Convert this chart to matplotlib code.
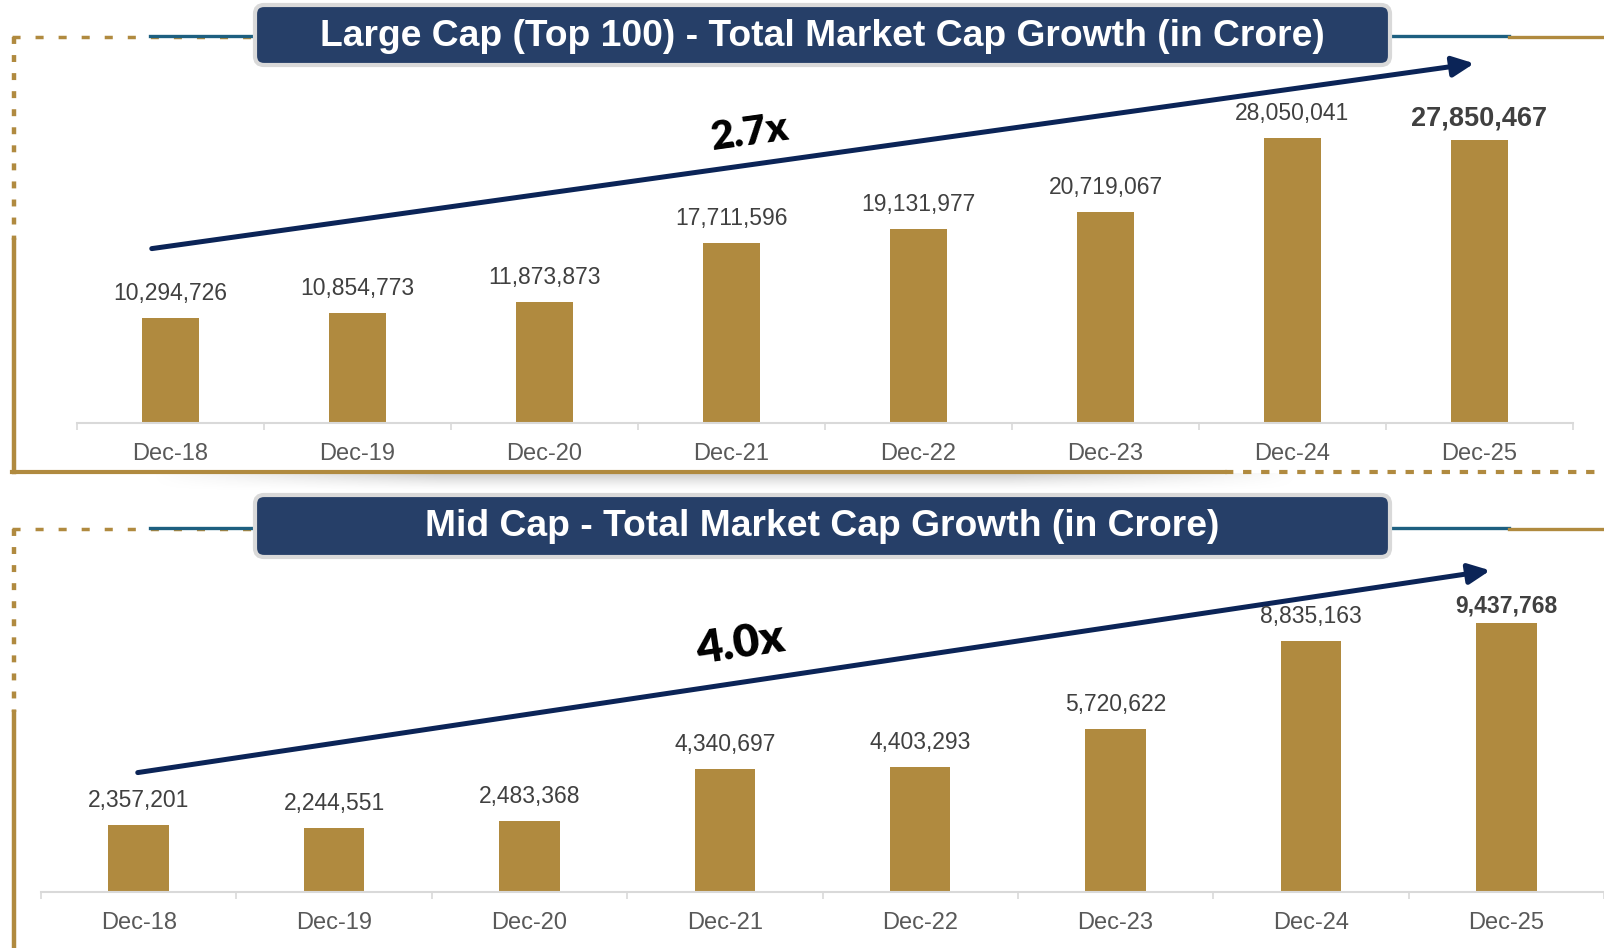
"""Large cap / mid cap market cap growth, two stacked bar panels."""

import math

import matplotlib.pyplot as plt
import numpy as np
from matplotlib.patches import FancyArrowPatch, FancyBboxPatch

plt.rcParams["font.family"] = ["Liberation Sans", "DejaVu Sans"]
plt.rcParams["lines.scale_dashes"] = False

W, H = 1604, 948

GOLD = "#B08A3F"
TEAL = "#1D5F80"
NAVY = "#263F68"
ARROW = "#0B2457"
BORDER = "#D9D9D9"
VALUE_INK = "#404040"
TICK_INK = "#595959"

dates = ["Dec-18", "Dec-19", "Dec-20", "Dec-21", "Dec-22", "Dec-23", "Dec-24", "Dec-25"]
large_cap = [10294726, 10854773, 11873873, 17711596, 19131977, 20719067, 28050041, 27850467]
mid_cap = [2357201, 2244551, 2483368, 4340697, 4403293, 5720622, 8835163, 9437768]

large_title = "Large Cap (Top 100) - Total Market Cap Growth (in Crore)"
mid_title = "Mid Cap - Total Market Cap Growth (in Crore)"


def px_rect(left, top, right, bottom):
    # pixel box (top-left origin) -> figure fraction rect
    return [left / W, 1 - bottom / H, (right - left) / W, (bottom - top) / H]


def frame(bg, line_y, box_top, box_bottom, solid_from, frame_bottom, closed):
    # dashed gold top line with teal segments either side of the title
    bg.plot([12, 255], [line_y, line_y], color=GOLD, lw=2.5, dashes=(5.8, 10.8))
    bg.plot([150, 255], [line_y - 1, line_y - 1], color=TEAL, lw=2.4)
    bg.plot([1390, 1509], [line_y - 1, line_y - 1], color=TEAL, lw=2.4)
    bg.plot([1509, W], [line_y, line_y], color=GOLD, lw=2.4)
    # left edge: dotted then solid
    bg.plot([14, 14], [line_y, solid_from], color=GOLD, lw=3.2, dashes=(5, 8))
    bg.plot([14, 14], [solid_from, frame_bottom], color=GOLD, lw=3.2)
    if closed:
        # soft shadow under the closing line
        fade_y = np.linspace(1, 0, 20) ** 1.5
        fade_x = np.clip(np.minimum(np.linspace(0, 4, 200), np.linspace(4, 0, 200)), 0, 1)
        shade = np.zeros((20, 200, 4))
        shade[..., :3] = 0.55
        shade[..., 3] = 0.45 * fade_y[:, None] * fade_x[None, :]
        bg.imshow(shade, extent=(150, 1300, frame_bottom + 20, frame_bottom + 1),
                  aspect="auto", zorder=0, interpolation="bilinear")
        bg.plot([12, 1225], [frame_bottom, frame_bottom], color=GOLD, lw=3)
        bg.plot([1225, W], [frame_bottom, frame_bottom], color=GOLD, lw=3, dashes=(6, 7))
    box = FancyBboxPatch((255, box_top), 1135, box_bottom - box_top,
                         boxstyle="round,pad=0,rounding_size=9",
                         facecolor=NAVY, edgecolor=BORDER, lw=3, zorder=3)
    bg.add_patch(box)


def bar_panel(fig, rect, values, ymax, title, title_y, bold_size, bold_offset):
    ax = fig.add_axes(rect)
    x = np.arange(len(values))
    bars = ax.bar(x, values, width=0.31, color=GOLD, zorder=2)
    ax.set_xlim(-0.5, len(values) - 0.5)
    ax.set_ylim(0, ymax)
    ax.patch.set_alpha(0)
    for side in ["top", "right", "left"]:
        ax.spines[side].set_visible(False)
    ax.spines["bottom"].set_color(BORDER)
    ax.spines["bottom"].set_linewidth(1.5)
    ax.set_yticks([])
    ax.set_xticks(x)
    ax.set_xticklabels(dates, fontsize=17, color=TICK_INK)
    ax.set_xticks(np.arange(len(values) + 1) - 0.5, minor=True)
    ax.tick_params(axis="x", which="major", length=0, pad=14.5)
    ax.tick_params(axis="x", which="minor", length=5, width=1.2, color=BORDER)

    for i, (bar, v) in enumerate(zip(bars, values)):
        last = i == len(values) - 1
        ax.annotate(f"{v:,}", (bar.get_x() + bar.get_width() / 2, v),
                    xytext=(0, bold_offset if last else 18), textcoords="offset pixels",
                    ha="center", va="baseline",
                    fontsize=bold_size if last else 16.5,
                    fontweight="bold" if last else "normal", color=VALUE_INK)

    fig.text(822 / W, 1 - title_y / H, title, ha="center", va="center",
             color="white", fontsize=26.8, fontweight="bold", zorder=5)
    return ax


def growth_arrow(bg, start, end, label, label_xy, size):
    bg.add_patch(FancyArrowPatch(start, end, arrowstyle="-|>,head_length=1.0,head_width=0.47",
                                 mutation_scale=13, color=ARROW, lw=3.6, zorder=4))
    angle = math.degrees(math.atan2(start[1] - end[1], end[0] - start[0]))
    bg.text(*label_xy, label, rotation=angle, rotation_mode="anchor",
            ha="center", va="center", fontsize=size, fontweight="heavy",
            color="black", family=["Lato", "DejaVu Sans"], zorder=4)


def main():
    fig = plt.figure(figsize=(W / 100, H / 100), dpi=100)
    bg = fig.add_axes([0, 0, 1, 1])
    bg.set_xlim(0, W)
    bg.set_ylim(H, 0)
    bg.axis("off")

    frame(bg, 37, 5, 65, 240, 472, closed=True)
    frame(bg, 529, 495, 557, 712, H + 5, closed=False)

    bar_panel(fig, px_rect(77, 423 - 304.8, 1573, 423), large_cap, 30e6,
              large_title, 37, 19.5, 15)
    bar_panel(fig, px_rect(41, 892 - 284.5, W, 892), mid_cap, 10e6,
              mid_title, 526, 16.5, 11)

    large_x = large_cap[-1] / large_cap[0]
    mid_x = mid_cap[-1] / mid_cap[0]
    growth_arrow(bg, (149, 249), (1477, 63), f"{large_x:.1f}x", (750, 133), 29)
    growth_arrow(bg, (135, 773), (1493, 570), f"{mid_x:.1f}x", (740, 644), 33)

    fig.savefig("out.png", dpi=100)
    plt.close(fig)


if __name__ == "__main__":
    main()
